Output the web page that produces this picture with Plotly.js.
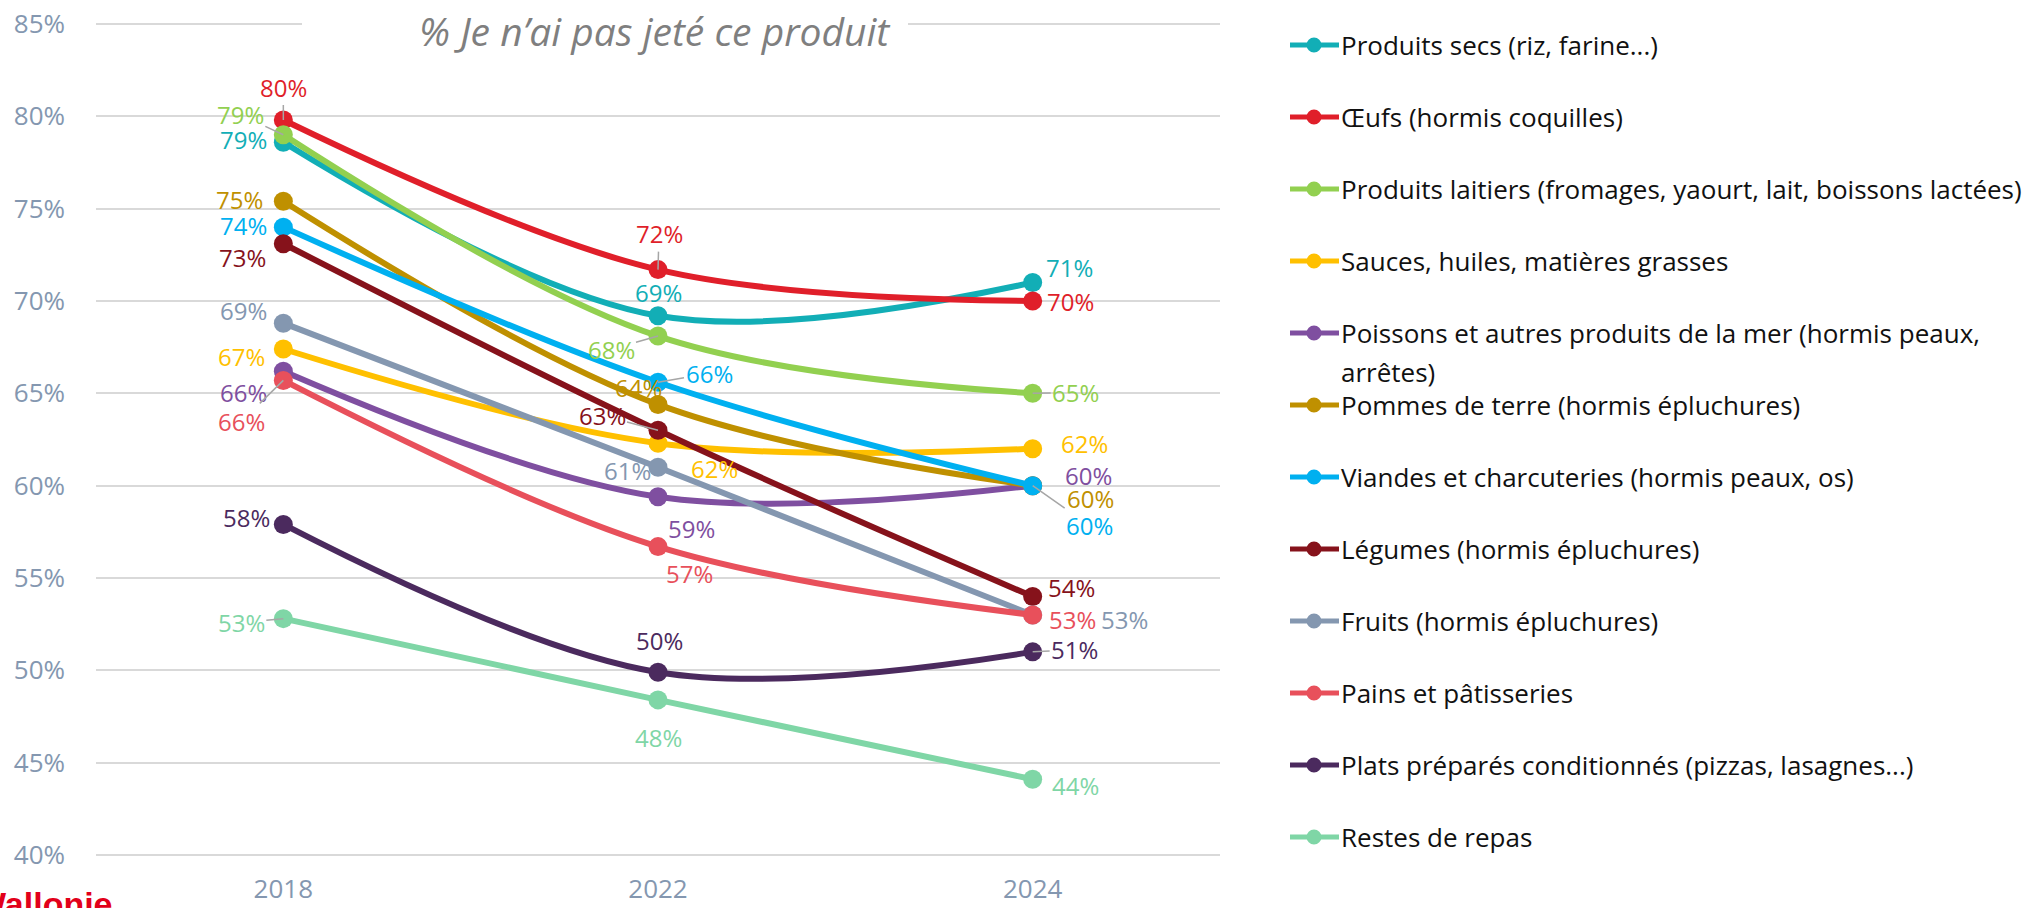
<!DOCTYPE html>
<html>
<head>
<meta charset="utf-8">
<script src="https://cdn.plot.ly/plotly-3.0.1.min.js"></script>
<style>
html,body{margin:0;padding:0;background:#fff;}
#chart{width:2033px;height:908px;}
</style>
</head>
<body>
<div id="chart"></div>
<script>
// ---------- DATA ----------
const years = ['2018', '2022', '2024'];

const seriesNames = [
  'Produits secs (riz, farine...)',
  'Œufs (hormis coquilles)',
  'Produits laitiers (fromages, yaourt, lait, boissons lactées)',
  'Sauces, huiles, matières grasses',
  'Poissons et autres produits de la mer (hormis peaux, arrêtes)',
  'Pommes de terre (hormis épluchures)',
  'Viandes et charcuteries (hormis peaux, os)',
  'Légumes (hormis épluchures)',
  'Fruits (hormis épluchures)',
  'Pains et pâtisseries',
  'Plats préparés conditionnés (pizzas, lasagnes...)',
  'Restes de repas'
];

const produitsSecs    = [78.6, 69.2, 71.0];
const oeufs           = [79.8, 71.7, 70.0];
const produitsLaitiers= [79.0, 68.1, 65.0];
const sauces          = [67.4, 62.3, 62.0];
const poissons        = [66.2, 59.4, 60.0];
const pommesDeTerre   = [75.4, 64.4, 60.0];
const viandes         = [74.0, 65.6, 60.0];
const legumes         = [73.1, 63.0, 54.0];
const fruits          = [68.8, 61.0, 53.0];
const pains           = [65.7, 56.7, 53.0];
const platsPrepares   = [57.9, 49.9, 51.0];
const restesRepas     = [52.8, 48.4, 44.1];

const seriesValues = [produitsSecs, oeufs, produitsLaitiers, sauces, poissons,
  pommesDeTerre, viandes, legumes, fruits, pains, platsPrepares, restesRepas];

const yTickValues = [40, 45, 50, 55, 60, 65, 70, 75, 80, 85];
const yTickLabels = ['40%', '45%', '50%', '55%', '60%', '65%', '70%', '75%', '80%', '85%'];
const chartTitle = '% Je n’ai pas jeté ce produit';

// ---------- STYLE ----------
const colors = ['#12AEB6', '#E01F2A', '#92D050', '#FFC000', '#7F4FA0', '#BF9000',
  '#00B0F0', '#86121B', '#8497B0', '#E8505B', '#4B2A5E', '#7FD6A6'];

// label offsets (pixels, dx right, dy down) and whether a leader line is drawn
const labelOffsets = [
  [[-40, -3, 0], [0, -23, 0], [37, -15, 0]],
  [[0, -33, 1], [1, -36, 1], [38, 0, 0]],
  [[-43, -20, 1], [-47, 13, 1], [43, -1, 1]],
  [[-42, 7, 0], [56, 25, 0], [52, -5, 0]],
  [[-40, 21, 0], [33, 32, 0], [56, -10, 0]],
  [[-44, -2, 0], [-20, -17, 0], [58, 13, 0]],
  [[-40, -2, 0], [51, -9, 1], [57, 40, 1]],
  [[-41, 14, 0], [-56, -15, 1], [39, -9, 0]],
  [[-40, -13, 0], [-31, 3, 0], [92, 5, 0]],
  [[-42, 41, 1], [31, 27, 0], [40, 5, 0]],
  [[-37, -7, 0], [1, -32, 0], [42, -2, 1]],
  [[-42, 4, 1], [0, 38, 0], [43, 6, 0]]
];

const FONT = 'Open Sans, Noto Sans, sans-serif';
const W = 2033, H = 908;
// value axis padded by 5 px on each side so the 40% and 85% gridlines are drawn
const PAD_PX = 5, PX_PER_UNIT = 831 / 45, PAD = PAD_PX / PX_PER_UNIT;
const M = {l: 96, r: 813, t: 24 - PAD_PX, b: 53 - PAD_PX};
const plotW = W - M.l - M.r, plotH = H - M.t - M.b;
const px2x = p => (p - M.l) / plotW;
const px2y = p => (H - M.b - p) / plotH;

// ---------- TRACES ----------
const traces = seriesNames.map((name, i) => ({
  type: 'scatter',
  mode: 'lines+markers',
  name: name,
  x: years,
  y: seriesValues[i],
  line: {color: colors[i], width: 6, shape: 'spline', smoothing: 1},
  marker: {color: colors[i], size: 19},
  cliponaxis: false,
  hoverinfo: 'skip',
  showlegend: false
}));

// ---------- ANNOTATIONS ----------
const annotations = [];

// data labels (x given as category index)
seriesValues.forEach((vals, i) => {
  vals.forEach((v, j) => {
    const [dx, dy, leader] = labelOffsets[i][j];
    const base = {
      x: j, y: v, xref: 'x', yref: 'y',
      text: Math.round(v) + '%',
      font: {family: FONT, size: 24, color: colors[i]}
    };
    if (leader) {
      annotations.push(Object.assign(base, {
        showarrow: true, ax: dx, ay: dy, axref: 'pixel', ayref: 'pixel',
        arrowhead: 0, arrowwidth: 1.5, arrowcolor: '#A6A6A6', standoff: 0
      }));
    } else {
      annotations.push(Object.assign(base, {
        showarrow: false, xanchor: 'center', yanchor: 'middle',
        xshift: dx, yshift: -dy
      }));
    }
  });
});

// title
annotations.push({
  xref: 'paper', yref: 'paper', x: px2x(655), y: px2y(30),
  xanchor: 'center', yanchor: 'middle', showarrow: false,
  text: '<i>' + chartTitle + '</i>',
  font: {family: FONT, size: 39, color: '#7F7F7F'}
});

// logo text (cut at the left and bottom edges, as in the original)
annotations.push({
  xref: 'paper', yref: 'paper', x: px2x(-28), y: px2y(883),
  xanchor: 'left', yanchor: 'top', showarrow: false,
  text: '<b>Wallonie</b>',
  font: {family: 'Liberation Sans, Arial, sans-serif', size: 34, color: '#E2001A'}
});

const shapes = [];
// white box behind the title (hides the top gridline there)
shapes.push({
  type: 'rect', xref: 'paper', yref: 'paper', layer: 'above',
  x0: px2x(302), x1: px2x(908), y0: px2y(46), y1: px2y(8),
  fillcolor: '#FFFFFF', line: {width: 0}
});

// custom legend
const legendStart = 45, legendStep = 72;
seriesNames.forEach((name, i) => {
  const cy = legendStart + legendStep * i;
  shapes.push({
    type: 'line', xref: 'paper', yref: 'paper',
    x0: px2x(1290), x1: px2x(1339), y0: px2y(cy), y1: px2y(cy),
    line: {color: colors[i], width: 5}
  });
  shapes.push({
    type: 'circle', xref: 'paper', yref: 'paper',
    x0: px2x(1314 - 7.5), x1: px2x(1314 + 7.5), y0: px2y(cy + 7.5), y1: px2y(cy - 7.5),
    fillcolor: colors[i], line: {color: colors[i], width: 0}
  });
  let lines = [name];
  if (name.length > 60) {
    const k = name.lastIndexOf(', ');
    lines = [name.slice(0, k + 1), name.slice(k + 2)];
  }
  lines.forEach((ln, li) => {
    annotations.push({
      xref: 'paper', yref: 'paper', x: px2x(1339), y: px2y(cy + li * 39),
      xanchor: 'left', yanchor: 'middle', showarrow: false,
      text: ln,
      font: {family: FONT, size: 26, color: '#111111'}
    });
  });
});

const layout = {
  width: W, height: H,
  margin: M,
  paper_bgcolor: '#FFFFFF', plot_bgcolor: '#FFFFFF',
  showlegend: false,
  xaxis: {
    type: 'category', range: [-0.5, 2.5],
    showgrid: false, zeroline: false, showline: false, ticks: '',
    tickfont: {family: FONT, size: 26, color: '#8497B0'},
    ticklabelstandoff: 11, fixedrange: true
  },
  yaxis: {
    range: [40 - PAD, 85 + PAD], tickmode: 'array', tickvals: yTickValues, ticktext: yTickLabels,
    showgrid: true, gridcolor: '#D9D9D9', gridwidth: 2,
    zeroline: false, showline: false, ticks: '',
    tickfont: {family: FONT, size: 26, color: '#8497B0'},
    ticklabelstandoff: 30, fixedrange: true
  },
  annotations: annotations,
  shapes: shapes
};

Plotly.newPlot('chart', traces, layout, {displayModeBar: false, staticPlot: true});
</script>
</body>
</html>
